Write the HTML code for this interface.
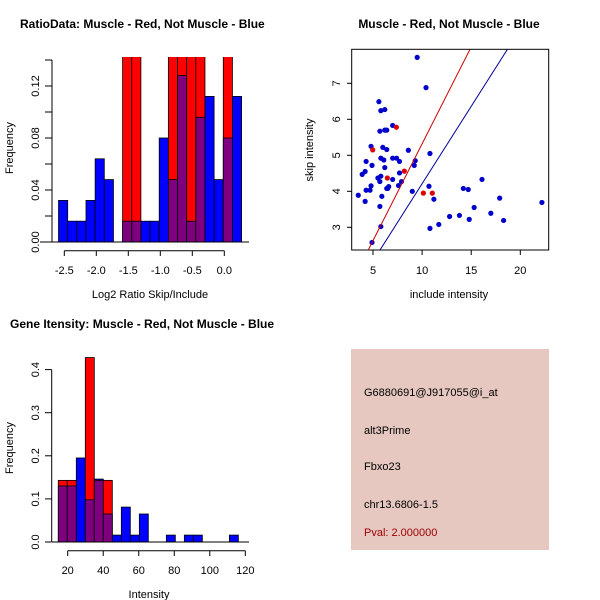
<!DOCTYPE html>
<html><head><meta charset="utf-8"><style>
body{margin:0;background:#fff}
svg{display:block;font-family:"Liberation Sans",sans-serif}
</style></head><body>
<svg id="c" width="600" height="600" xmlns="http://www.w3.org/2000/svg">
<defs>
<clipPath id="clip1"><rect x="40" y="57" width="220" height="200"/></clipPath>
<clipPath id="clip2"><rect x="352" y="49.5" width="197" height="200.5"/></clipPath>
</defs>
<g id="p1"></g>
<g id="p2"></g>
<g id="p3"></g>
<g id="p4">
<rect x="351" y="349" width="198" height="201" fill="#e6c8c1"/>
<text x="364" y="396" font-size="11">G6880691@J917055@i_at</text>
<text x="364" y="434" font-size="11">alt3Prime</text>
<text x="364" y="470" font-size="11">Fbxo23</text>
<text x="364" y="508" font-size="11">chr13.6806-1.5</text>
<text x="364" y="536" font-size="11" fill="#a00000">Pval: 2.000000</text>
</g>
</svg>
<script>
// ---- Panel 1: ratio histogram data ----
const ratioBinStart = -2.59;
const ratioBinWidth = 0.143;
const ratioBlue = [0.032,0.016,0.016,0.032,0.064,0.048,0,0.016,0.016,0.016,0.016,0.08,0.048,0.128,0.016,0.096,0.112,0.048,0.08,0.112];
const ratioRed  = [0,0,0,0,0,0,0,0.3,0.3,0,0,0,0.3,0.3,0.3,0.3,0,0,0.3,0];
const ratioYTicks = [0,0.02,0.04,0.06,0.08,0.10,0.12,0.14];
const ratioYLabels = ["0.00","","0.04","","0.08","","0.12",""];
const ratioXTicks = [-2.5,-2.0,-1.5,-1.0,-0.5,0.0];
const ratioXLabels = ["-2.5","-2.0","-1.5","-1.0","-0.5","0.0"];

// ---- Panel 2: scatter data ----
const blueInclude = [9.5,10.4,5.6,5.8,6.2,5.7,6.2,6.4,7.0,4.8,6.0,6.4,8.6,10.8,5.8,6.1,7.0,7.4,7.7,9.3,9.2,4.3,4.9,6.2,3.9,4.2,7.7,5.8,5.5,5.7,7.0,7.9,6.6,6.5,7.6,4.8,10.7,14.2,14.7,16.1,4.7,4.3,3.5,9.0,5.9,11.2,15.3,17.0,17.9,22.2,18.3,12.8,13.8,14.8,11.7,10.8,4.2,5.7,5.8,4.9,6.4];
const blueSkip = [7.72,6.88,6.49,6.24,6.27,5.67,5.70,5.70,5.83,5.25,5.22,5.16,5.14,5.05,4.92,4.87,4.92,4.92,4.83,4.85,4.72,4.83,4.72,4.66,4.47,4.55,4.51,4.42,4.37,4.27,4.33,4.27,4.13,4.08,4.16,4.15,4.14,4.08,4.05,4.33,4.03,4.03,3.89,4.0,3.86,3.78,3.55,3.39,3.81,3.69,3.19,3.30,3.33,3.22,3.08,2.97,3.72,3.58,3.02,2.58,4.08];
const redInclude = [4.97,7.38,6.46,8.19,10.13,11.04];
const redSkip = [5.15,5.78,4.37,4.56,3.95,3.95];
const lineSlopes = [0.538,0.4295];
const lineIntercepts = [-0.06,-0.083];
const scatterXTicks = [5,10,15,20];
const scatterYTicks = [3,4,5,6,7];

// ---- Panel 3: gene intensity histogram ----
const geneBinStart = 14.7;
const geneBinWidth = 5.07;
const geneBlue = [0.13,0.13,0.195,0.098,0.146,0.065,0.016,0.081,0.016,0.065,0,0,0.016,0,0.016,0.016,0,0,0,0.016];
const geneRed  = [0.143,0.143,0,0.428,0.143,0.143,0,0,0,0,0,0,0,0,0,0,0,0,0,0];
const geneYTicks = [0,0.1,0.2,0.3,0.4];
const geneYLabels = ["0.0","0.1","0.2","0.3","0.4"];
const geneXTicks = [20,40,60,80,100,120];

const NS="http://www.w3.org/2000/svg";
function mk(tag,attrs,parent,txt){const e=document.createElementNS(NS,tag);for(const k in attrs)e.setAttribute(k,attrs[k]);if(txt!==undefined)e.textContent=txt;parent.appendChild(e);return e;}

// ===== Panel 1 =====
(function(){
const g=document.getElementById('p1');
const x=v=>64.3+(v+2.5)*64;
const y=v=>242-v*1300;
const bars=mk('g',{'clip-path':'url(#clip1)'},g);
ratioBlue.forEach((b,i)=>{
  const r=ratioRed[i];const x0=x(ratioBinStart+i*ratioBinWidth),x1=x(ratioBinStart+(i+1)*ratioBinWidth);
  const m=Math.min(b,r), t=Math.max(b,r);
  if(t>0){const e=mk('rect',{x:x0,y:y(t),width:x1-x0,height:y(0)-y(t),fill:r>b?'#ff0000':'#0000ff',stroke:'#000','stroke-width':0.8},bars);
    }
  if(m>0){const e=mk('rect',{x:x0,y:y(m),width:x1-x0,height:y(0)-y(m),fill:'#7f007f',stroke:'#000','stroke-width':0.8},bars);
    }
});
mk('line',{x1:52,x2:52,y1:y(0),y2:y(0.14),stroke:'#000'},g);
ratioYTicks.forEach((v,i)=>{mk('line',{x1:45,x2:52,y1:y(v),y2:y(v),stroke:'#000'},g);
  if(ratioYLabels[i]){const t=mk('text',{x:0,y:0,'font-size':11,'text-anchor':'middle',transform:`translate(39,${y(v)}) rotate(-90)`},g,ratioYLabels[i]);
  }});
mk('line',{x1:40,x2:249,y1:242,y2:242,stroke:'#000'},g);
mk('line',{x1:x(-2.5),x2:x(0),y1:250.7,y2:250.7,stroke:'#000'},g);
ratioXTicks.forEach((v,i)=>{mk('line',{x1:x(v),x2:x(v),y1:250.7,y2:256,stroke:'#000'},g);
  const t=mk('text',{x:x(v),y:274,'font-size':11,'text-anchor':'middle'},g,ratioXLabels[i]);
  });
let t=mk('text',{x:20,y:28,'font-size':12,'font-weight':'bold'},g,'RatioData: Muscle - Red, Not Muscle - Blue');

t=mk('text',{x:150,y:298,'font-size':11,'text-anchor':'middle'},g,'Log2 Ratio Skip/Include');

t=mk('text',{x:0,y:0,'font-size':11,'text-anchor':'middle',transform:'translate(13,148) rotate(-90)'},g,'Frequency');

})();

// ===== Panel 2 =====
(function(){
const g=document.getElementById('p2');
const x=v=>373+(v-5)*9.82;
const y=v=>227.3-(v-3)*36;
mk('rect',{x:351.7,y:49.3,width:197,height:200.7,fill:'none',stroke:'#000'},g);
const cl=mk('g',{'clip-path':'url(#clip2)'},g);
blueInclude.forEach((v,i)=>{const c=mk('circle',{cx:x(v),cy:y(blueSkip[i]),r:2.6,fill:'#0000cc'},cl);
  });
redInclude.forEach((v,i)=>{const c=mk('circle',{cx:x(v),cy:y(redSkip[i]),r:2.6,fill:'#dd0000'},cl);
  });
const lc=['#cc0000','#000099'];
lineSlopes.forEach((s,i)=>{const a=0,b=30;const l=mk('line',{x1:x(a),y1:y(lineIntercepts[i]+s*a),x2:x(b),y2:y(lineIntercepts[i]+s*b),stroke:lc[i],'stroke-width':1},cl);
  });
scatterXTicks.forEach(v=>{mk('line',{x1:x(v),x2:x(v),y1:250,y2:255,stroke:'#000'},g);
  const t=mk('text',{x:x(v),y:274,'font-size':11,'text-anchor':'middle'},g,String(v));
  });
scatterYTicks.forEach(v=>{mk('line',{x1:347,x2:351.7,y1:y(v),y2:y(v),stroke:'#000'},g);
  const t=mk('text',{x:0,y:0,'font-size':11,'text-anchor':'middle',transform:`translate(340,${y(v)}) rotate(-90)`},g,String(v));
  });
let t=mk('text',{x:449,y:28,'font-size':12,'font-weight':'bold','text-anchor':'middle'},g,'Muscle - Red, Not Muscle - Blue');

t=mk('text',{x:449,y:298,'font-size':11,'text-anchor':'middle'},g,'include intensity');

t=mk('text',{x:0,y:0,'font-size':11,'text-anchor':'middle',transform:'translate(313,150) rotate(-90)'},g,'skip intensity');

})();

// ===== Panel 3 =====
(function(){
const g=document.getElementById('p3');
const x=v=>67.7+(v-20)*1.776;
const y=v=>542-v*431;
geneBlue.forEach((b,i)=>{
  const r=geneRed[i];const x0=x(geneBinStart+i*geneBinWidth),x1=x(geneBinStart+(i+1)*geneBinWidth);
  const m=Math.min(b,r),t=Math.max(b,r);
  if(t>0){const e=mk('rect',{x:x0,y:y(t),width:x1-x0,height:y(0)-y(t),fill:r>b?'#ff0000':'#0000ff',stroke:'#000','stroke-width':0.8},g);
    }
  if(m>0){const e=mk('rect',{x:x0,y:y(m),width:x1-x0,height:y(0)-y(m),fill:'#7f007f',stroke:'#000','stroke-width':0.8},g);
    }
});
mk('line',{x1:51.7,x2:51.7,y1:y(0),y2:y(0.4),stroke:'#000'},g);
geneYTicks.forEach((v,i)=>{mk('line',{x1:45,x2:51.7,y1:y(v),y2:y(v),stroke:'#000'},g);
  const t=mk('text',{x:0,y:0,'font-size':11,'text-anchor':'middle',transform:`translate(39,${y(v)}) rotate(-90)`},g,geneYLabels[i]);
  });
mk('line',{x1:52,x2:249,y1:542,y2:542,stroke:'#000'},g);
mk('line',{x1:x(20),x2:x(120),y1:550.7,y2:550.7,stroke:'#000'},g);
geneXTicks.forEach(v=>{mk('line',{x1:x(v),x2:x(v),y1:550.7,y2:556,stroke:'#000'},g);
  const t=mk('text',{x:x(v),y:574,'font-size':11,'text-anchor':'middle'},g,String(v));
  });
let t=mk('text',{x:10,y:328,'font-size':12,'font-weight':'bold'},g,'Gene Itensity: Muscle - Red, Not Muscle - Blue');

t=mk('text',{x:149,y:598,'font-size':11,'text-anchor':'middle'},g,'Intensity');

t=mk('text',{x:0,y:0,'font-size':11,'text-anchor':'middle',transform:'translate(13,448) rotate(-90)'},g,'Frequency');

})();
</script>
</body></html>
